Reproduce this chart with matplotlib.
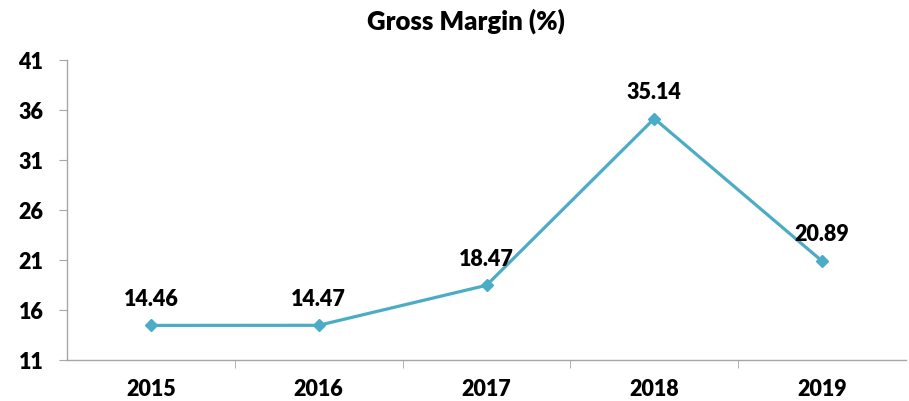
import matplotlib.pyplot as plt
import numpy as np

years = ["2015", "2016", "2017", "2018", "2019"]
gross_margin = [14.46, 14.47, 18.47, 35.14, 20.89]
y_ticks = [11, 16, 21, 26, 31, 36, 41]

plt.rcParams['font.family'] = ['Lato', 'DejaVu Sans']
FW = 'heavy'
FS = 15.5

fig = plt.figure(figsize=(9.09, 4.02), dpi=100)
ax = fig.add_axes([67/909, 1-361/402, (906-67)/909, 300/402])

x = np.arange(len(years))
ax.plot(x, gross_margin, color='#4BACC6', lw=2.3, marker='D', markersize=6.5, zorder=3)
for xi, v in zip(x, gross_margin):
    ax.annotate(f"{v:.2f}", (xi, v), xytext=(0, 12), textcoords='offset points',
                ha='center', va='bottom', fontsize=FS, fontweight=FW, color='black')

ax.set_xlim(-0.5, len(years) - 0.5)
ax.set_ylim(11, 41)
ax.set_yticks(y_ticks)
ax.set_yticklabels([str(t) for t in y_ticks], fontsize=FS, fontweight=FW)
ax.set_xticks(x)
ax.set_xticklabels(years, fontsize=FS, fontweight=FW)
ax.set_xticks(np.arange(0.5, len(years) - 0.5, 1), minor=True)
ax.tick_params(axis='x', which='major', length=0, pad=13)
ax.tick_params(axis='x', which='minor', length=6, color='#A6A6A6', direction='out')
ax.tick_params(axis='y', length=6, color='#A6A6A6', pad=11)

for s in ['top', 'right']:
    ax.spines[s].set_visible(False)
for s in ['left', 'bottom']:
    ax.spines[s].set_color('#A6A6A6')
    ax.spines[s].set_linewidth(1)

fig.text(466/909, 1 - 30/402, "Gross Margin (%)", fontsize=18.5, fontweight=FW,
         ha='center', va='baseline')

fig.savefig('out.png', dpi=100)
